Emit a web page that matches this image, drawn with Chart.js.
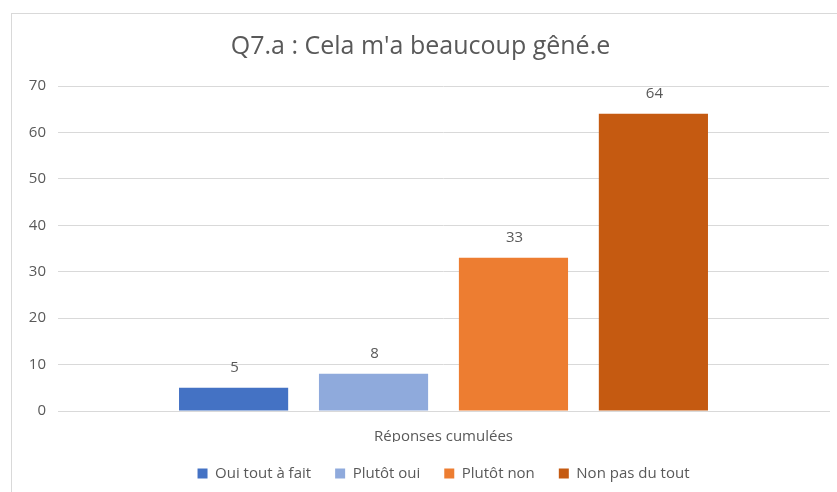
<!DOCTYPE html>
<html>
<head>
<meta charset="utf-8">
<script src="https://cdn.jsdelivr.net/npm/chart.js@4.4.0/dist/chart.umd.min.js"></script>
<style>
  html, body { margin: 0; padding: 0; background: #fff; }
  #wrap { position: relative; width: 837px; height: 492px; overflow: hidden; }
  #frame { position: absolute; left: 11px; top: 13px; width: 840px; height: 500px;
           border-left: 1px solid #d9d9d9; border-top: 1px solid #d9d9d9; }
  canvas { position: absolute; left: 0; top: 0; }
</style>
</head>
<body>
<div id="wrap">
  <div id="frame"></div>
  <canvas id="chart" width="837" height="492"></canvas>
</div>
<script>
// données
const categories = ['Réponses cumulées'];
const seriesNames = ['Oui tout à fait', 'Plutôt oui', 'Plutôt non', 'Non pas du tout'];
const seriesValues = [[5], [8], [33], [64]];
const seriesColors = ['#4472C4', '#8FAADC', '#ED7D31', '#C55A11'];
const yTicks = [0, 10, 20, 30, 40, 50, 60, 70];

const FONT = "'Open Sans', sans-serif";
const TEXT = '#595959';
const SIZE = 15;

// étiquettes de valeur au-dessus des barres
const valueLabels = {
    id: 'valueLabels',
    afterDatasetsDraw(chart) {
        const ctx = chart.ctx;
        ctx.save();
        ctx.fillStyle = TEXT;
        ctx.font = SIZE + 'px ' + FONT;
        ctx.textAlign = 'center';
        ctx.textBaseline = 'middle';
        chart.data.datasets.forEach((ds, i) => {
            chart.getDatasetMeta(i).data.forEach((bar, j) => {
                ctx.fillText(ds.data[j], bar.x + 1, bar.y - 20);
            });
        });
        ctx.restore();
    }
};

new Chart(document.getElementById('chart'), {
    type: 'bar',
    data: {
        labels: categories,
        datasets: seriesNames.map((name, i) => ({
            label: name,
            data: seriesValues[i],
            backgroundColor: seriesColors[i],
            borderWidth: 0,
            categoryPercentage: 0.726,
            barPercentage: 0.78
        }))
    },
    options: {
        responsive: false,
        animation: false,
        layout: { padding: { left: 12, right: 8, top: 13, bottom: 1 } },
        plugins: {
            title: {
                display: true,
                text: "Q7.a : Cela m'a beaucoup gêné.e",
                color: TEXT,
                font: { family: FONT, size: 25, weight: 'normal' },
                padding: { top: 19, bottom: 24 }
            },
            legend: {
                position: 'bottom',
                fullSize: false,
                labels: {
                    color: TEXT,
                    font: { family: FONT, size: SIZE },
                    boxWidth: 10,
                    boxHeight: 10,
                    padding: 24
                }
            },
            tooltip: { enabled: false }
        },
        scales: {
            x: {
                afterFit: axis => { axis.height = 31; },
                grid: { display: false },
                border: { color: '#d9d9d9' },
                ticks: { color: TEXT, font: { family: FONT, size: SIZE }, padding: 9 }
            },
            y: {
                min: 0,
                max: 70,
                afterFit: axis => { axis.width = 46; },
                afterBuildTicks: axis => { axis.ticks = yTicks.map(v => ({ value: v })); },
                grid: { color: '#d9d9d9', drawTicks: false },
                border: { display: false },
                ticks: { color: TEXT, font: { family: FONT, size: SIZE }, padding: 12 }
            }
        }
    },
    plugins: [valueLabels]
});
</script>
</body>
</html>
